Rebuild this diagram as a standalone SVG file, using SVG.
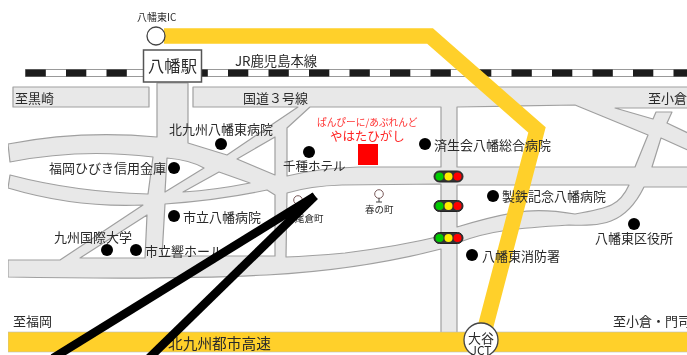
<svg xmlns="http://www.w3.org/2000/svg" width="687" height="355" viewBox="0 0 687 355">
<style>
text{font-family:"Noto Sans CJK JP","Noto Sans",sans-serif;fill:#2a2a2a;font-size:13px}
.road{fill:#e8e8e8;stroke:#a0a0a0;stroke-width:1.2;fill-rule:evenodd;stroke-linejoin:round}
.hw{fill:none;stroke:#ffd02a;stroke-width:15.5;stroke-linejoin:miter}
.dot{fill:#000}
.s{font-size:9.5px}
.cap{fill:#333;stroke:#222}
.mark{fill:#fff;stroke:#7a5a5a;stroke-width:1}
.bl{stroke:#000;stroke-width:8.5;fill:none}
</style>
<defs><filter id="soft" x="0" y="0" width="100%" height="100%"><feGaussianBlur stdDeviation="0.4"/></filter></defs>
<rect width="687" height="355" fill="#fff"/>
<g filter="url(#soft)">
<g id="rail">
<rect x="25.5" y="69.5" width="662" height="7" fill="#fff" stroke="#999"/>
<line x1="25.5" y1="73" x2="687" y2="73" stroke="#1a1a1a" stroke-width="7" stroke-dasharray="20.3 20.2"/>
</g>
<g id="roads">
<rect class="road" x="13" y="87" width="136" height="20"/>
<path class="road" d="M157,83 L157,137 Q80,130 8,144 L10,162 Q80,148 153,157 L148,194 Q75,192 10,175 L8,188 Q75,208 143,205 L60,260 L8,260 L8,277 Q170,280 267,275 Q360,270 441,249 L441,333 L457,333 L457,243 C490,230 520,228 569,225 C600,226 625,226 644,187 L690,187 L690,87 L193,87 L193,107 L298,107 L227,155 L188,143 L188,83 Z
M310,107 L441,107 L441,167 L359,167 Q320,168 287,176 L287,128 Z
M457,107 L575,105 L648,135 L635,167 L457,167 Z
M615,108 L653,119 L656,112 L672,112 L667,123 L690,134 L690,108 Z
M661,138 L690,151 L690,167 L652,167 Z
M457,185 L629,185 C620,205 610,208 575,214 C540,208 520,208 457,227 Z
M287,193 Q310,186 342,185 L441,184 L441,236 Q400,246 345,253 Q310,256 286,257 Z
M165,204 Q220,200 267,190 L275,195 L275,256 L162,256 Z
M147,215 L145,258 L80,258 Z
M167,158 Q190,160 204,168 L165,192 Z
M219,172 L250,183 Q215,190 183,192 Z
M275,137 L275,175 L237,159 Z"/>
</g>
<g id="highway">
<rect x="8" y="332" width="680" height="20" fill="#ffd02a" stroke="#bbb" stroke-width=".6"/>
<polyline class="hw" points="164,36 430,36 537,130 482,340"/>
</g>
<g id="ic">
<circle cx="156" cy="36" r="9" fill="#fff" stroke="#444" stroke-width="1.3"/>
<text x="137" y="21" style="font-size:10px">八幡東IC</text>
</g>
<g id="station">
<rect x="143.500" y="50" width="58" height="32" fill="#fff" stroke="#555" stroke-width="1.5"/>
<text x="172.500" y="72" text-anchor="middle" style="font-size:16.300px">八幡駅</text>
</g>
<g id="labels">
<text x="235" y="66" style="font-size:13.300px">JR鹿児島本線</text>
<text x="15" y="103">至黒崎</text>
<text x="243" y="103">国道３号線</text>
<text x="648" y="103">至小倉</text>
<text x="13" y="326">至福岡</text>
<text x="613" y="326">至小倉・門司</text>
<text x="168" y="349" style="font-size:14.700px">北九州都市高速</text>
</g>
<g id="poi">
<circle class="dot" cx="221" cy="144" r="6"/><text x="169" y="134">北九州八幡東病院</text>
<circle class="dot" cx="309" cy="152" r="6"/><text x="283" y="171" style="font-size:12.500px">千種ホテル</text>
<circle class="dot" cx="174" cy="168" r="6"/><text x="49" y="173">福岡ひびき信用金庫</text>
<circle class="dot" cx="425" cy="144" r="6"/><text x="434" y="150">済生会八幡総合病院</text>
<circle class="dot" cx="174" cy="216" r="6"/><text x="183" y="222">市立八幡病院</text>
<circle class="dot" cx="107" cy="250" r="6"/><text x="54" y="242">九州国際大学</text>
<circle class="dot" cx="136" cy="250" r="6"/><text x="145" y="256">市立響ホール</text>
<circle class="dot" cx="493" cy="196" r="6"/><text x="502" y="201">製鉄記念八幡病院</text>
<circle class="dot" cx="634" cy="224" r="6"/><text x="595" y="243">八幡東区役所</text>
<circle class="dot" cx="472" cy="255" r="6"/><text x="482" y="261">八幡東消防署</text>
</g>
<g id="yahata">
<text x="317" y="125.500" style="font-size:9.700px;fill:#f33">ぱんぴーに/あぷれんど</text>
<text x="330" y="140.500" style="font-size:12.500px;fill:#f22">やはたひがし</text>
<rect x="358" y="144" width="20" height="21" fill="#f00"/>
</g>
<g id="stops">
<circle class="mark" cx="379" cy="194" r="4.300"/><path d="M379,198V202M376,202H382" stroke="#444" fill="none"/>
<text class="s" x="365" y="213">春の町</text>
<circle class="mark" cx="298" cy="200" r="4.300"/><path d="M298,204V208" stroke="#444" fill="none"/>
<text class="s" x="295" y="222">尾倉町</text>
</g>
<g id="signals">
<g id="signal1"><rect class="cap" x="434" y="171" width="29" height="11" rx="5.500"/><circle cx="439.500" cy="176.500" r="4" fill="#0c0"/><circle cx="448.500" cy="176.500" r="4" fill="#fe0"/><circle cx="457.500" cy="176.500" r="4" fill="#f00"/></g>
<g id="signal2"><rect class="cap" x="434" y="200.500" width="29" height="11" rx="5.500"/><circle cx="439.500" cy="206" r="4" fill="#0c0"/><circle cx="448.500" cy="206" r="4" fill="#fe0"/><circle cx="457.500" cy="206" r="4" fill="#f00"/></g>
<g id="signal3"><rect class="cap" x="434" y="232.500" width="29" height="11" rx="5.500"/><circle cx="439.500" cy="238" r="4" fill="#0c0"/><circle cx="448.500" cy="238" r="4" fill="#fe0"/><circle cx="457.500" cy="238" r="4" fill="#f00"/></g>
</g>
<g id="jct">
<circle cx="481" cy="340" r="17" fill="#fff" stroke="#444" stroke-width="1.3"/>
<text x="481" y="343" text-anchor="middle">大谷</text>
<text x="481" y="355" text-anchor="middle" style="font-size:12px">JCT</text>
</g>
<g id="overlay">
<line class="bl" x1="315" y1="196" x2="53" y2="358"/>
<line class="bl" x1="315" y1="196" x2="149" y2="358"/>
</g>
</g>
</svg>
